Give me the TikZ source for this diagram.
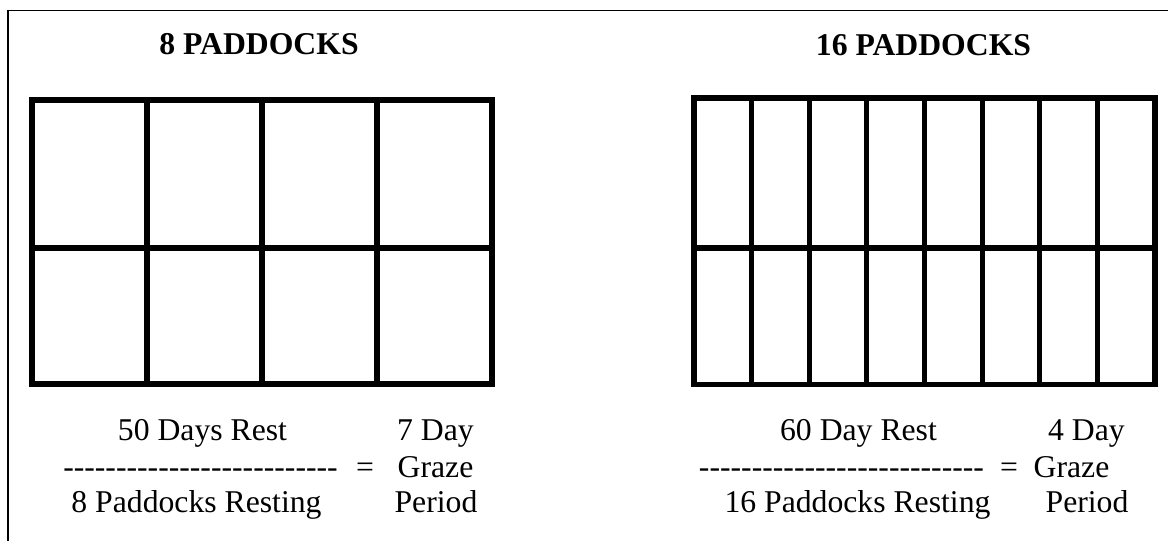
\documentclass[tikz,border=0pt]{standalone}
\usepackage{fontspec}
\setmainfont{Liberation Serif}
\newcommand\mydashes[1]{\count255=0 \loop -\kern0pt\advance\count255 by 1 \ifnum\count255<#1\repeat}
\begin{document}
\begin{tikzpicture}[x=1pt,y=-1pt,
  txt/.style={anchor=base,inner sep=0pt,font=\fontsize{31.7}{36}\selectfont},
  ttl/.style={anchor=base,inner sep=0pt,font=\fontsize{31.7}{36}\selectfont\bfseries},
  fence/.style={line width=5.2pt,line cap=rect},
  frame/.style={line width=1.6pt}]
\useasboundingbox (0,0) rectangle (1168,541);
\fill[white] (0,0) rectangle (1168,541);
% outer frame (continues past the picture edges)
\draw[frame] (8,541) -- (8,10.5) -- (1168,10.5);
% titles
\node[ttl] (t8) at (259,54) {8 PADDOCKS};
\node[ttl] (t16) at (923.5,55) {16 PADDOCKS};
% left grid: 8 paddocks
\draw[fence] (32,100) rectangle (492,384);
\draw[fence] (32,248) -- (492,248);
\foreach \x in {147,262,377}{\draw[fence] (\x,100) -- (\x,384);}
% right grid: 16 paddocks
\draw[fence] (694,98) rectangle (1155,384.5);
\draw[fence] (694,248) -- (1155,248);
\foreach \i in {1,...,7}{\draw[fence] ({694+57.625*\i},98) -- ({694+57.625*\i},384.5);}
% left formula
\node[txt] (l1) at (202.5,440) {50 Days Rest};
\node[txt] (l2) at (435.5,440) {7 Day};
\node[txt] (ld) at (200.5,477) {\mydashes{26}};
\node[txt] (le) at (365,477) {=};
\node[txt] (lg) at (435.5,477) {Graze};
\node[txt] (l3) at (196.5,512) {8 Paddocks Resting};
\node[txt] (l4) at (436,512) {Period};
% right formula
\node[txt] (r1) at (858.5,440) {60 Day Rest};
\node[txt] (r2) at (1086.5,440) {4 Day};
\node[txt] (rd) at (841.5,477) {\mydashes{27}};
\node[txt] (re) at (1009,477) {=};
\node[txt] (rg) at (1071.5,477) {Graze};
\node[txt] (r3) at (857.5,512) {16 Paddocks Resting};
\node[txt] (r4) at (1087,512) {Period};
\end{tikzpicture}
\end{document}
